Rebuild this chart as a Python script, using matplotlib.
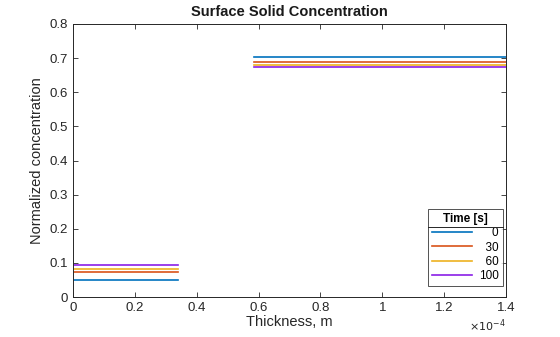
import numpy as np
import matplotlib.pyplot as plt

# thickness of the two solid layers (m)
x_layer1 = [0.0, 0.339e-4]
x_layer2 = [0.586e-4, 1.4e-4]

times = ['0', '30', '60', '100']
conc_layer1 = [0.051, 0.072, 0.083, 0.095]
conc_layer2 = [0.702, 0.688, 0.681, 0.674]
colors = ['#0072BD', '#D95319', '#EDB120', '#8A1FE6']

plt.rcParams['font.family'] = ['Liberation Sans', 'DejaVu Sans']

fig = plt.figure(figsize=(5.6, 3.37), dpi=100)
ax = fig.add_axes([73 / 560, 1 - 297 / 337, 433 / 560, 273 / 337])

# pad labels so they look right-aligned (two spaces ~ one digit)
width = max(len(t) for t in times)
for i in range(len(times)):
    ax.plot(x_layer1, [conc_layer1[i]] * 2, color=colors[i], lw=1.2)
    ax.plot(x_layer2, [conc_layer2[i]] * 2, color=colors[i], lw=1.2,
            label='  ' * (width - len(times[i])) + times[i])

ax.set_xlim(0, 1.4e-4)
ax.set_ylim(0, 0.8)
xt = np.arange(0, 1.41, 0.2)
ax.set_xticks(xt * 1e-4)
ax.set_xticklabels(['0', '0.2', '0.4', '0.6', '0.8', '1', '1.2', '1.4'])
yt = np.arange(0, 0.81, 0.1)
ax.set_yticks(yt)
ax.set_yticklabels(['0'] + ['%.1f' % v for v in yt[1:]])
ax.tick_params(direction='in', top=True, right=True, labelsize=9.5,
               colors='#262626', length=3.5, width=0.6)
for s in ax.spines.values():
    s.set_color('#262626')
    s.set_linewidth(0.7)

ax.text(1.0, -0.075, r'$\times10^{-4}$', transform=ax.transAxes,
        ha='right', va='top', fontsize=8, color='#262626')

ax.set_xlabel('Thickness, m', fontsize=10.5, color='#262626', labelpad=1)
ax.set_ylabel('Normalized concentration', fontsize=10.5, color='#262626', labelpad=4)
ax.set_title('Surface Solid Concentration', fontsize=10.5, fontweight='bold',
             color='#1a1a1a', pad=6)

leg = ax.legend(title='Time [s]', loc='lower right', fontsize=8.5,
                bbox_to_anchor=(503 / 560, 1 - 286 / 337),
                bbox_transform=fig.transFigure, borderaxespad=0,
                title_fontproperties={'weight': 'bold', 'size': 8.5},
                frameon=True, fancybox=False, edgecolor='#262626',
                handlelength=3.4, handletextpad=0.6,
                labelspacing=0.18, borderpad=0.35)
leg.get_frame().set_linewidth(0.7)

fig.canvas.draw()
bb = leg.get_window_extent()
tb = leg.get_title().get_window_extent()
yline = tb.y0 - 2
inv = fig.transFigure.inverted()
p0 = inv.transform((bb.x0, yline))
p1 = inv.transform((bb.x1, yline))
fig.add_artist(plt.Line2D([p0[0], p1[0]], [p0[1], p1[1]], color='#262626', lw=0.7))

fig.savefig('out.png', dpi=100)
